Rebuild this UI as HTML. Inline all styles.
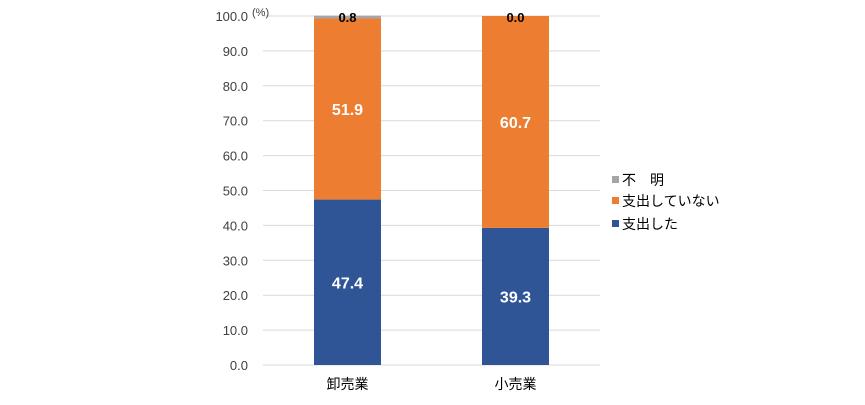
<!DOCTYPE html>
<html><head><meta charset="utf-8"><style>
body{margin:0;background:#fff;width:865px;height:400px;overflow:hidden}
text{font-family:"Liberation Sans","Noto Sans CJK JP",sans-serif}
</style></head><body>
<svg id="chart" width="865" height="400" xmlns="http://www.w3.org/2000/svg"></svg>
<script>
const categories = ["卸売業", "小売業"];
const seriesNames = ["支出した", "支出していない", "不　明"];
const spent = [47.4, 39.3];
const notSpent = [51.9, 60.7];
const unknown = [0.8, 0.0];
const yTicks = [0, 10, 20, 30, 40, 50, 60, 70, 80, 90, 100];

const NS = "http://www.w3.org/2000/svg";
const svg = document.getElementById("chart");
const x0 = 263, x1 = 600, yBottom = 365, yTop = 16;
const y = v => yBottom - (v / 100) * (yBottom - yTop);
const bandX = i => 314 + i * 168;
const barW = 67;
const colors = ["#2f5597", "#ed7d31", "#a5a5a5"];
function el(tag, attrs, txt) {
  const e = document.createElementNS(NS, tag);
  for (const k in attrs) e.setAttribute(k, attrs[k]);
  if (txt !== undefined) e.textContent = txt;
  svg.appendChild(e);
  return e;
}
yTicks.forEach(t => {
  const g = el("line", {x1: x0, x2: x1, y1: y(t), y2: y(t), stroke: "#d9d9d9", "stroke-width": 1});
  
  
  const l = el("text", {x: 248, y: y(t) + 5, "text-anchor": "end", "font-size": 13, fill: "#404040"}, t.toFixed(1));
  
  
});
const unit = el("text", {x: 252, y: 16, "font-size": 11, fill: "#404040"}, "(%)");



const series = [spent, notSpent, unknown];
categories.forEach((c, i) => {
  let base = 0;
  series.forEach((s, k) => {
    const v = s[i];
    const r = el("rect", {x: bandX(i), y: y(base + v), width: barW, height: y(base) - y(base + v), fill: colors[k]});
    
    
    let ly = k === 2 ? y(100) + 6 : (y(base) + y(base + v)) / 2 + 6;
    const t = el("text", {x: bandX(i) + barW / 2, y: ly, "text-anchor": "middle", "font-size": k === 2 ? 13 : 16, "font-weight": "bold", fill: k === 2 ? "#000" : "#fff"}, v.toFixed(1));
    
    
    base += v;
  });
  const cl = el("text", {x: bandX(i) + barW / 2, y: 389, "text-anchor": "middle", "font-size": 14, fill: "#000"}, c);
  
  
});
const legendY = [224, 201, 180];
seriesNames.forEach((n, k) => {
  const r = el("rect", {x: 612, y: legendY[k] - 4, width: 7, height: 7, fill: colors[k]});
  
  
  const t = el("text", {x: 622, y: legendY[k] + 5, "font-size": 14, fill: "#000"}, n);
  
  
});
</script>
</body></html>
